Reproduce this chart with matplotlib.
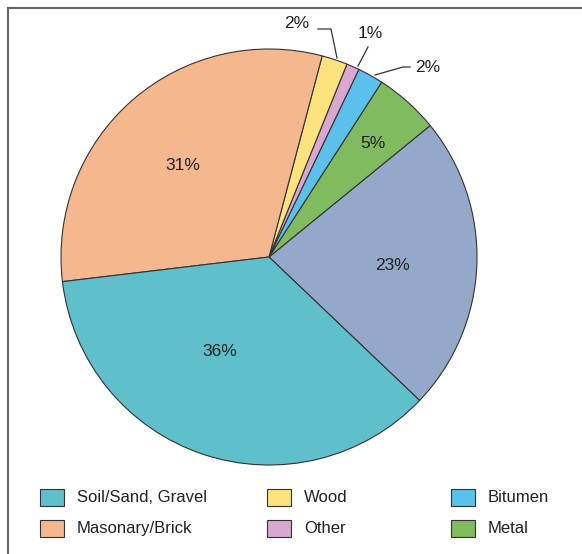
import matplotlib.pyplot as plt
from matplotlib.lines import Line2D
from matplotlib.patches import Rectangle

plt.rcParams['font.family'] = ['Liberation Sans', 'DejaVu Sans']

# Slices in drawing order (counter-clockwise from the lower right)
names = ["Unlabelled", "Metal", "Bitumen", "Other", "Wood",
         "Masonary/Brick", "Soil/Sand, Gravel"]
shares = [23, 5, 2, 1, 2, 31, 36]
colors = ["#94a8c9", "#80bb60", "#5bc0ec", "#d8a8d0", "#fde27e",
          "#f5b78e", "#5fc0cc"]

# legend grid, row by row
legend_rows = [["Soil/Sand, Gravel", "Wood", "Bitumen"],
               ["Masonary/Brick", "Other", "Metal"]]

W, H = 582, 554
cx, cy, R = 269, 257, 208


def px(x, y):
    # pixel position -> pie data coordinates
    return (x - cx) / R, (cy - y) / R


fig = plt.figure(figsize=(W / 100, H / 100), dpi=100)
ax = fig.add_axes([(cx - R) / W, (H - cy - R) / H, 2 * R / W, 2 * R / H])
ax.pie(shares, colors=colors, startangle=-43.6, counterclock=True,
       radius=1, wedgeprops=dict(edgecolor="#333333", linewidth=0.8))
ax.set_xlim(-1, 1)
ax.set_ylim(-1, 1)
ax.set_aspect("equal")
ax.axis("off")

# inside labels
inner = {"23%": (393, 265), "5%": (373, 143), "31%": (183, 165), "36%": (220, 352)}
for txt, (x, y) in inner.items():
    ax.text(*px(x, y), txt, ha="center", va="center", fontsize=12.5, color="#222222")

# outside labels with leader lines
outer = [
    ("2%", (297, 24), [(318, 29), (331, 29), (337, 58)]),
    ("1%", (370, 33), [(368, 47), (358, 66)]),
    ("2%", (428, 67), [(410, 67), (403, 67), (375, 75)]),
]
for txt, (x, y), pts in outer:
    ax.text(*px(x, y), txt, ha="center", va="center", fontsize=12.5, color="#222222")
    xs, ys = zip(*[px(a, b) for a, b in pts])
    ax.plot(xs, ys, color="#333333", lw=0.9, clip_on=False)

# legend drawn by hand so the uneven column spacing can be matched
lut = dict(zip(names, colors))
col_x = [40, 267, 451]
row_y = [497, 528.5]
for r, row in enumerate(legend_rows):
    for c, name in enumerate(row):
        x0, yc = col_x[c], row_y[r]
        fig.add_artist(Rectangle((x0 / W, (H - yc - 8.5) / H), 24 / W, 17 / H,
                                 transform=fig.transFigure, facecolor=lut[name],
                                 edgecolor="#333333", linewidth=0.8))
        fig.text((x0 + 37) / W, (H - yc) / H, name, ha="left", va="center",
                 fontsize=12, color="#222222")

# partial frame (top and left only)
fig.add_artist(Line2D([8 / W, 1], [1 - 8 / H] * 2, color="#666666", lw=1.5))
fig.add_artist(Line2D([8 / W] * 2, [0, 1 - 8 / H], color="#666666", lw=1.5))

fig.savefig("out.png", dpi=100)
